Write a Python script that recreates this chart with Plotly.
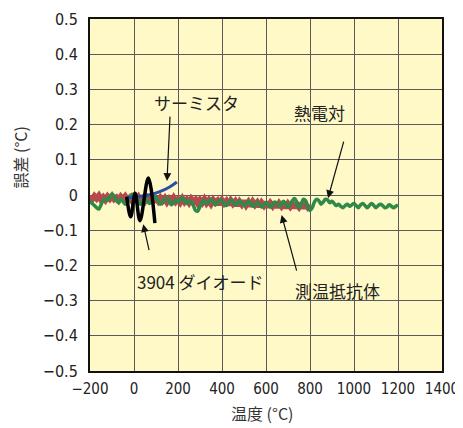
import plotly.graph_objects as go

# ---------------- data ----------------
rtd_temp = list(range(-200, 801, 10))
rtd_err = [
    -0.004, -0.012, -0.003, -0.010, -0.002, -0.013, -0.006, -0.014, -0.004, -0.011,
    -0.003, -0.012, -0.007, -0.015, -0.005, -0.012, -0.004, -0.014, -0.008, -0.016,
    -0.006, -0.013, -0.005, -0.015, -0.009, -0.017, -0.007, -0.014, -0.006, -0.016,
    -0.010, -0.018, -0.008, -0.017, -0.009, -0.020, -0.011, -0.018, -0.008, -0.019,
    -0.012, -0.021, -0.010, -0.020, -0.013, -0.022, -0.011, -0.019, -0.013, -0.024,
    -0.014, -0.022, -0.012, -0.023, -0.015, -0.025, -0.014, -0.022, -0.016, -0.027,
    -0.015, -0.024, -0.017, -0.028, -0.016, -0.025, -0.018, -0.030, -0.019, -0.027,
    -0.017, -0.029, -0.020, -0.031, -0.019, -0.028, -0.021, -0.033, -0.022, -0.030,
    -0.020, -0.034, -0.023, -0.031, -0.021, -0.035, -0.024, -0.032, -0.022, -0.036,
    -0.025, -0.033, -0.023, -0.036, -0.026, -0.034, -0.024, -0.037, -0.027, -0.035,
    -0.028,
]

tc_temp = list(range(-200, 1201, 10))
tc_err = [
    -0.018, -0.024, -0.030, -0.036, -0.040, -0.028, -0.015, -0.010, -0.014, -0.006,
    0.002, -0.004, -0.016, -0.022, -0.012, -0.018, -0.026, -0.020, -0.008, 0.002,
    0.000, -0.010, -0.020, -0.026, -0.014, -0.008, -0.016, -0.024, -0.018, -0.010,
    -0.006, -0.016, -0.026, -0.020, -0.012, -0.010, -0.018, -0.028, -0.022, -0.014,
    -0.020, -0.012, -0.008, -0.018, -0.024, -0.016, -0.020, -0.030, -0.044, -0.046,
    -0.032, -0.020, -0.016, -0.024, -0.018, -0.012, -0.020, -0.028, -0.022, -0.014,
    -0.018, -0.026, -0.030, -0.022, -0.014, -0.020, -0.028, -0.024, -0.016, -0.022,
    -0.030, -0.026, -0.018, -0.024, -0.032, -0.028, -0.020, -0.026, -0.034, -0.030,
    -0.022, -0.026, -0.034, -0.028, -0.020, -0.024, -0.032, -0.026, -0.018, -0.026,
    -0.034, -0.028, -0.016, -0.010, -0.022, -0.036, -0.026, -0.012, -0.016, -0.034,
    -0.044, -0.036, -0.020, -0.012, -0.016, -0.026, -0.020, -0.012, -0.014, -0.022,
    -0.018, -0.024, -0.030, -0.026, -0.032, -0.036, -0.030, -0.026, -0.032, -0.028,
    -0.024, -0.030, -0.036, -0.028, -0.024, -0.030, -0.036, -0.030, -0.024, -0.030,
    -0.036, -0.030, -0.026, -0.030, -0.036, -0.034, -0.028, -0.032, -0.036, -0.032,
    -0.028,
]

thermistor_temp = [-40, 0, 40, 80, 120, 160, 195]
thermistor_err = [-0.010, -0.006, -0.003, 0.002, 0.010, 0.022, 0.037]

diode_temp = [-33, -15, 5, 27, 65, 95]
diode_err = [-0.005, -0.062, 0.005, -0.073, 0.048, -0.080]

x_ticks = [-200, 0, 200, 400, 600, 800, 1000, 1200, 1400]
y_ticks = [0.5, 0.4, 0.3, 0.2, 0.1, 0, -0.1, -0.2, -0.3, -0.4, -0.5]

labels = [
    # text, text_x, text_y, arrow_tip_x, arrow_tip_y, arrow_tail_x, arrow_tail_y
    ("サーミスタ", 285, 0.262, 150, 0.040, 164, 0.227),
    ("熱電対", 845, 0.233, 882, -0.009, 955, 0.156),
    ("3904 ダイオード", 300, -0.247, 42, -0.083, 70, -0.161),
    ("測温抵抗体", 925, -0.270, 671, -0.057, 741, -0.219),
]

# ---------------- figure ----------------
fig = go.Figure()
fig.add_trace(go.Scatter(x=rtd_temp, y=rtd_err, mode="lines",
                         line=dict(color="#b44a50", width=6), hoverinfo="skip"))
fig.add_trace(go.Scatter(x=tc_temp, y=tc_err, mode="lines",
                         line=dict(color="#2f8a48", width=3.5, shape="spline"), hoverinfo="skip"))
fig.add_trace(go.Scatter(x=thermistor_temp, y=thermistor_err, mode="lines",
                         line=dict(color="#2b4ea6", width=3, shape="spline"), hoverinfo="skip"))
fig.add_trace(go.Scatter(x=diode_temp, y=diode_err, mode="lines",
                         line=dict(color="#000000", width=3.5, shape="spline"), hoverinfo="skip"))

jp_font = "Noto Sans CJK JP"
num_font = "DejaVu Sans Condensed, Liberation Sans Narrow, sans-serif"

for text, tx, ty, hx, hy, ax_, ay_ in labels:
    fig.add_annotation(x=hx, y=hy, ax=ax_, ay=ay_, xref="x", yref="y",
                       axref="x", ayref="y", text="", showarrow=True,
                       arrowhead=2, arrowsize=1.3, arrowwidth=1.2, arrowcolor="#111")
    fig.add_annotation(x=tx, y=ty, xref="x", yref="y", text=text, showarrow=False,
                       xanchor="center", yanchor="middle",
                       font=dict(family=jp_font + ", " + num_font, size=17, color="#222"))

fig.add_annotation(x=0.489, y=-0.119, xref="paper", yref="paper", text="温度 (°C)",
                   xanchor="center", yanchor="middle", showarrow=False,
                   font=dict(family=jp_font, size=16, color="#333"))
fig.add_annotation(x=-0.2, y=0.608, xref="paper", yref="paper", text="誤差 (°C)",
                   xanchor="center", yanchor="middle", textangle=-90, showarrow=False,
                   font=dict(family=jp_font, size=16, color="#333"))

fig.update_xaxes(range=[-200, 1400], tickvals=x_ticks,
                 ticktext=[f"{v:d}".replace("-", "−") for v in x_ticks],
                 showgrid=True, gridcolor="#5a5a5a", gridwidth=1, zeroline=False,
                 showline=True, linecolor="#111", linewidth=2, mirror=True,
                 ticks="", ticklabelstandoff=3, automargin=False,
                 tickfont=dict(family=num_font, size=15, color="#222"))
fig.update_yaxes(range=[-0.5, 0.5], tickvals=y_ticks,
                 ticktext=[("0" if v == 0 else f"{v:.1f}".replace("-", "−")) for v in y_ticks],
                 showgrid=True, gridcolor="#5a5a5a", gridwidth=1, zeroline=False,
                 showline=True, linecolor="#111", linewidth=2, mirror=True,
                 ticks="", ticklabelstandoff=7, automargin=False,
                 tickfont=dict(family=num_font, size=16, color="#222"))

# the page body adds an 8 px offset, so margins are shifted to keep the plot in place
fig.update_layout(width=463, height=420, margin=dict(l=82, r=29, t=11, b=57),
                  plot_bgcolor="#fff9c8", paper_bgcolor="#ffffff", showlegend=False)

fig.write_html("out.html")
